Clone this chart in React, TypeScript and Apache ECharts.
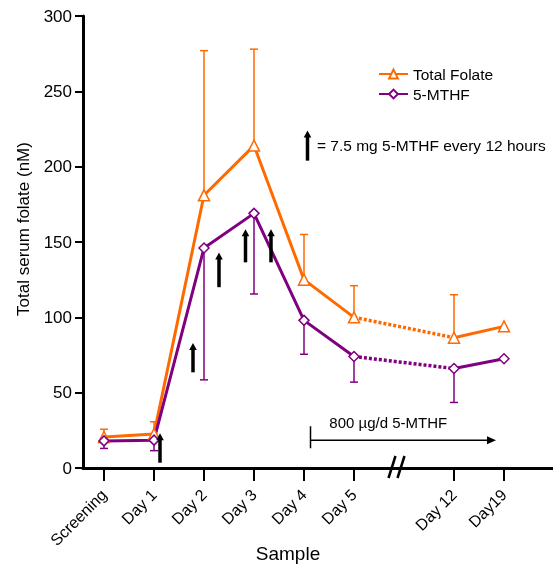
import React, { useEffect, useRef } from "react";
import * as echarts from "echarts";

const categories = ["Screening", "Day 1", "Day 2", "Day 3", "Day 4", "Day 5", "Day 12", "Day19"];
const positions = [0, 1, 2, 3, 4, 5, 7, 8];
const totalFolate = [20.6, 22.6, 181, 214, 125, 100, 86.5, 94];
const totalFolateUpper = [25.7, 30.7, 277, 278, 155, 121, 115, null];
const mthf = [18, 18.5, 146, 169, 98, 74, 66, 72.5];
const mthfLower = [13, 11.5, 58.5, 115.5, 75.5, 57, 43.5, null];
// dosing arrows: x position, base value, tip value
const doseX = [1.12, 1.78, 2.3, 2.83, 3.34];
const doseBase = [3.5, 63.5, 120, 136.5, 136.5];
const doseTip = [23, 83, 143, 158.5, 158.5];
const keyArrow = [4.07, 204, 224];
// 800 ug/d span: start x, end x, level
const maintenance = [4.13, 7.84, 18.4];
const breakX = 5.85;

const ORANGE = "#FF6A00";
const PURPLE = "#800080";
const FONT = "Liberation Sans, Arial, sans-serif";

const pts = (ys: number[], idx: number[]) => idx.map((i) => [positions[i], ys[i]]);

function errData(vals: number[], bounds: (number | null)[]) {
  const out: number[][] = [];
  vals.forEach((v, i) => {
    const b = bounds[i];
    if (b != null) out.push([positions[i], v, b]);
  });
  return out;
}

function errorSeries(name: string, data: number[][], color: string) {
  return {
    type: "custom",
    name,
    data,
    encode: { x: 0, y: [1, 2] },
    z: 1,
    renderItem: (_p: any, api: any) => {
      const x = api.value(0);
      const p0 = api.coord([x, api.value(1)]);
      const p1 = api.coord([x, api.value(2)]);
      const cap = 4;
      const style = { stroke: color, lineWidth: 1.5 };
      return {
        type: "group",
        children: [
          { type: "line", shape: { x1: p0[0], y1: p0[1], x2: p1[0], y2: p1[1] }, style },
          { type: "line", shape: { x1: p1[0] - cap, y1: p1[1], x2: p1[0] + cap, y2: p1[1] }, style },
        ],
      };
    },
  };
}

function arrowShape(p0: number[], p1: number[]) {
  const h = 7;
  const w = 3.8;
  return [
    { type: "line", shape: { x1: p0[0], y1: p0[1], x2: p1[0], y2: p1[1] + h - 1 }, style: { stroke: "#000", lineWidth: 3.5 } },
    {
      type: "polygon",
      shape: { points: [[p1[0], p1[1]], [p1[0] - w, p1[1] + h], [p1[0] + w, p1[1] + h]] },
      style: { fill: "#000" },
    },
  ];
}

const lineSeries = (name: string, data: number[][], color: string, symbol: string, size: number, dotted: boolean) => ({
  type: "line",
  name,
  data,
  symbol: dotted ? "none" : symbol,
  showSymbol: !dotted,
  symbolSize: size,
  lineStyle: { color, width: dotted ? 3.5 : 3, type: dotted ? [3, 2] : "solid" },
  itemStyle: { color: "#fff", borderColor: color, borderWidth: 1.5 },
  z: dotted ? 2 : 3,
});

const option: any = {
  animation: false,
  textStyle: { fontFamily: FONT },
  grid: { left: 83, right: 0, top: 16, bottom: 98, containLabel: false },
  legend: {
    orient: "vertical",
    left: 378,
    top: 66,
    padding: 0,
    itemWidth: 29,
    itemHeight: 11,
    itemGap: 4,
    data: ["Total Folate", "5-MTHF"],
    textStyle: { fontFamily: FONT, fontSize: 15.5, color: "#000" },
  },
  xAxis: {
    type: "value",
    min: -0.42,
    max: 8.98,
    splitLine: { show: false },
    axisLine: { show: true, onZero: false, lineStyle: { color: "#000", width: 3 } },
    axisTick: { show: false },
    axisLabel: {
      customValues: positions,
      rotate: 45,
      margin: 24,
      fontSize: 16,
      color: "#000",
      fontFamily: FONT,
      formatter: (v: number) => {
        const i = positions.indexOf(Math.round(v));
        return i >= 0 ? categories[i] : "";
      },
    },
  },
  yAxis: {
    type: "value",
    min: 0,
    max: 300,
    interval: 50,
    splitLine: { show: false },
    axisLine: { show: true, onZero: false, lineStyle: { color: "#000", width: 3 } },
    axisTick: { show: true, length: 8, lineStyle: { color: "#000", width: 2 } },
    axisLabel: { fontSize: 17, color: "#000", margin: 11, fontFamily: FONT },
  },
  graphic: [
    {
      type: "text",
      x: 23,
      y: 229,
      rotation: Math.PI / 2,
      style: { text: "Total serum folate (nM)", fontSize: 17, fill: "#000", fontFamily: FONT, align: "center", verticalAlign: "middle" },
    },
    { type: "text", x: 288, y: 553, style: { text: "Sample", fontSize: 19, fill: "#000", fontFamily: FONT, align: "center", verticalAlign: "middle" } },
    { type: "text", left: 317, top: 137, style: { text: "= 7.5 mg 5-MTHF every 12 hours", fontSize: 15.5, fill: "#000", fontFamily: FONT } },
  ],
  series: [
    lineSeries("Total Folate", pts(totalFolate, [0, 1, 2, 3, 4, 5]), ORANGE, "triangle", 11, false),
    lineSeries("Total Folate", pts(totalFolate, [5, 6]), ORANGE, "triangle", 11, true),
    lineSeries("Total Folate", pts(totalFolate, [6, 7]), ORANGE, "triangle", 11, false),
    lineSeries("5-MTHF", pts(mthf, [0, 1, 2, 3, 4, 5]), PURPLE, "diamond", 10, false),
    lineSeries("5-MTHF", pts(mthf, [5, 6]), PURPLE, "diamond", 10, true),
    lineSeries("5-MTHF", pts(mthf, [6, 7]), PURPLE, "diamond", 10, false),
    errorSeries("Total Folate SD", errData(totalFolate, totalFolateUpper), ORANGE),
    errorSeries("5-MTHF SD", errData(mthf, mthfLower), PURPLE),
    {
      type: "custom",
      name: "ticks",
      data: positions.map((p) => [p, 0]),
      encode: { x: 0, y: 1 },
      z: 4,
      renderItem: (_p: any, api: any) => {
        const c = api.coord([api.value(0), api.value(1)]);
        return { type: "line", shape: { x1: c[0], y1: c[1], x2: c[0], y2: c[1] + 13 }, style: { stroke: "#000", lineWidth: 2 } };
      },
    },
    {
      type: "custom",
      name: "dose",
      data: [...doseX.map((x, i) => [x, doseBase[i], doseTip[i]]), keyArrow],
      encode: { x: 0, y: [1, 2] },
      z: 5,
      renderItem: (_p: any, api: any) => {
        const x = api.value(0);
        const p0 = api.coord([x, api.value(1)]);
        const p1 = api.coord([x, api.value(2)]);
        return { type: "group", children: arrowShape(p0, p1) };
      },
    },
    {
      type: "custom",
      name: "maintenance",
      data: [maintenance],
      encode: { x: [0, 1], y: 2 },
      z: 5,
      renderItem: (_p: any, api: any) => {
        const a = api.coord([api.value(0), api.value(2)]);
        const b = api.coord([api.value(1), api.value(2)]);
        const mid = api.coord([(api.value(0) + api.value(1)) / 2, api.value(2)]);
        return {
          type: "group",
          children: [
            { type: "line", shape: { x1: a[0], y1: a[1] - 14, x2: a[0], y2: a[1] + 8 }, style: { stroke: "#000", lineWidth: 1.5 } },
            { type: "line", shape: { x1: a[0], y1: a[1], x2: b[0] - 6, y2: b[1] }, style: { stroke: "#000", lineWidth: 1.5 } },
            { type: "polygon", shape: { points: [[b[0], b[1]], [b[0] - 9, b[1] - 4], [b[0] - 9, b[1] + 4]] }, style: { fill: "#000" } },
            {
              type: "text",
              x: mid[0] - 15,
              y: mid[1] - 18,
              style: { text: "800 \u00b5g/d 5-MTHF", fontSize: 15, fill: "#000", fontFamily: FONT, align: "center", verticalAlign: "middle" },
            },
          ],
        };
      },
    },
    {
      type: "custom",
      name: "break",
      data: [[breakX, 0]],
      encode: { x: 0, y: 1 },
      z: 6,
      renderItem: (_p: any, api: any) => {
        const c = api.coord([api.value(0), api.value(1)]);
        const style = { stroke: "#000", lineWidth: 2.5 };
        return {
          type: "group",
          children: [
            { type: "line", shape: { x1: c[0] - 8, y1: c[1] + 10, x2: c[0] - 1, y2: c[1] - 12 }, style },
            { type: "line", shape: { x1: c[0] + 1, y1: c[1] + 10, x2: c[0] + 8, y2: c[1] - 12 }, style },
          ],
        };
      },
    },
  ],
};

export default function App() {
  const ref = useRef<HTMLDivElement>(null);
  useEffect(() => {
    const chart = echarts.init(ref.current!, null, { renderer: "svg" });
    chart.setOption(option);
    return () => chart.dispose();
  }, []);
  return <div ref={ref} style={{ position: "fixed", left: 0, top: 0, width: 553, height: 566 }} />;
}
